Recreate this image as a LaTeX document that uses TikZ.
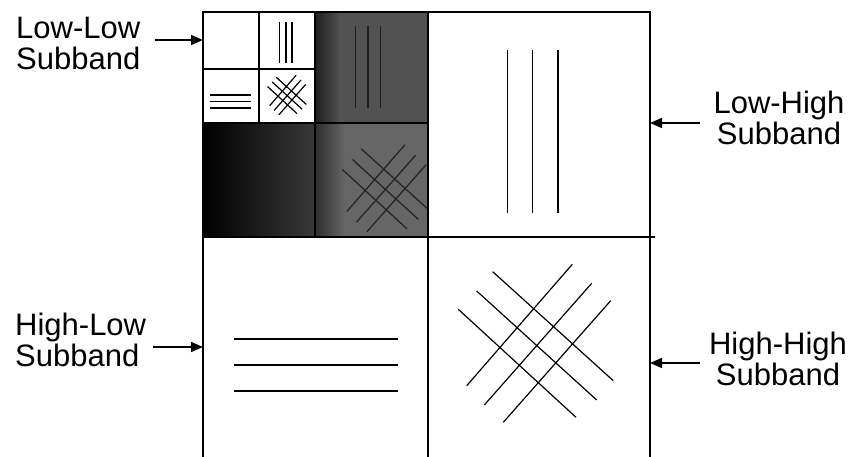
\documentclass[tikz,border=0pt]{standalone}
\usepackage{fontspec}
\setmainfont{Liberation Sans}
\usetikzlibrary{arrows.meta}
\begin{document}
\begin{tikzpicture}[x=1pt,y=-1pt,
  lbl/.style={font=\fontsize{31}{31}\selectfont, inner sep=0pt},
  arr/.style={-{Triangle[length=12pt,width=10pt]}, line width=1.5pt},
  frame/.style={line width=1.5pt},
  thickdiv/.style={line width=2.2pt},
  vpat/.pic={\draw (-25.3,-81.5)--(-25.3,81.5) (0,-81.5)--(0,81.5) (25.3,-81.5)--(25.3,81.5);},
  hpat/.pic={\draw (-82,-26)--(82,-26) (-82,0)--(82,0) (-82,26)--(82,26);},
  xpat/.pic={\draw (-43.3,-71.3)--(77.3,37.7) (-59.3,-52)--(60.7,57) (-77.7,-33.7)--(40,74.3)
                   (-69.3,42.7)--(36.3,-78.7) (-51.7,62)--(55.7,-59.7) (-32.7,79.3)--(74.7,-42.3);}]
\useasboundingbox (0,0) rectangle (859,457);
% corners of the structure
\coordinate (TL) at (203,12);
\coordinate (TR) at (650,12);
% level-1 detail subbands (halftone-like grey)
\fill[black!68] (315,12) rectangle (428,123);
\shade[left color=black!88, right color=black!68] (315,12) rectangle (340,123);
\shade[left color=black, middle color=black!94, right color=black!78] (203,123) rectangle (315,237);
\fill[black!60] (315,123) rectangle (428,237);
\shade[left color=black!82, right color=black!60] (315,123) rectangle (345,237);
\pic[scale=0.5, line width=1.3pt, color=black!88] at (368,67) {vpat};
\pic[scale=0.55, line width=1.3pt, color=black!85] at (385,188) {xpat};
% level-2 white subbands
\fill[white] (203,12) rectangle (315,123);
\draw[thickdiv] (259,12) -- (259,123);
\draw[thickdiv] (203,69) -- (315,69);
\draw[frame] (315,12) -- (315,237);
\draw[frame] (203,123) -- (428,123);
% outer frame and main divisions
\draw[frame] (203,457) -- (TL) -- (TR) -- (650,457);
\draw[frame] (428,12) -- (428,457);
\draw[frame] (203,237) -- (655,237);
% level-0 patterns
\pic[line width=1.3pt] at (532.7,131.5) {vpat};
\pic[line width=1.3pt] at (316,365) {hpat};
\pic[line width=1.2pt] at (536,343) {xpat};
% level-2 patterns
\pic[scale=0.25, line width=1.6pt] at (285.7,42.5) {vpat};
\pic[scale=0.25, line width=1.6pt] at (230.5,101.5) {hpat};
\pic[scale=0.25, line width=1.2pt] at (287,95) {xpat};
% labels (anchor = baseline of the last line)
\node[lbl, anchor=base west, align=left] (ll) at (16,70) {Low-Low\\Subband};
\node[lbl, anchor=base west, align=left] (hl) at (15,366) {High-Low\\Subband};
\node[lbl, anchor=base, align=center] (lh) at (779,145) {Low-High\\Subband};
\node[lbl, anchor=base, align=center] (hh) at (778,385) {High-High\\Subband};
% arrows
\coordinate (llS) at (155,40);
\coordinate (hlS) at (153,347);
\coordinate (lhS) at (700,123);
\coordinate (hhS) at (700,363);
\draw[arr] (llS) -- (llS -| TL);
\draw[arr] (hlS) -- (hlS -| TL);
\draw[arr] (lhS) -- (lhS -| TR);
\draw[arr] (hhS) -- (hhS -| TR);
\end{tikzpicture}
\end{document}
